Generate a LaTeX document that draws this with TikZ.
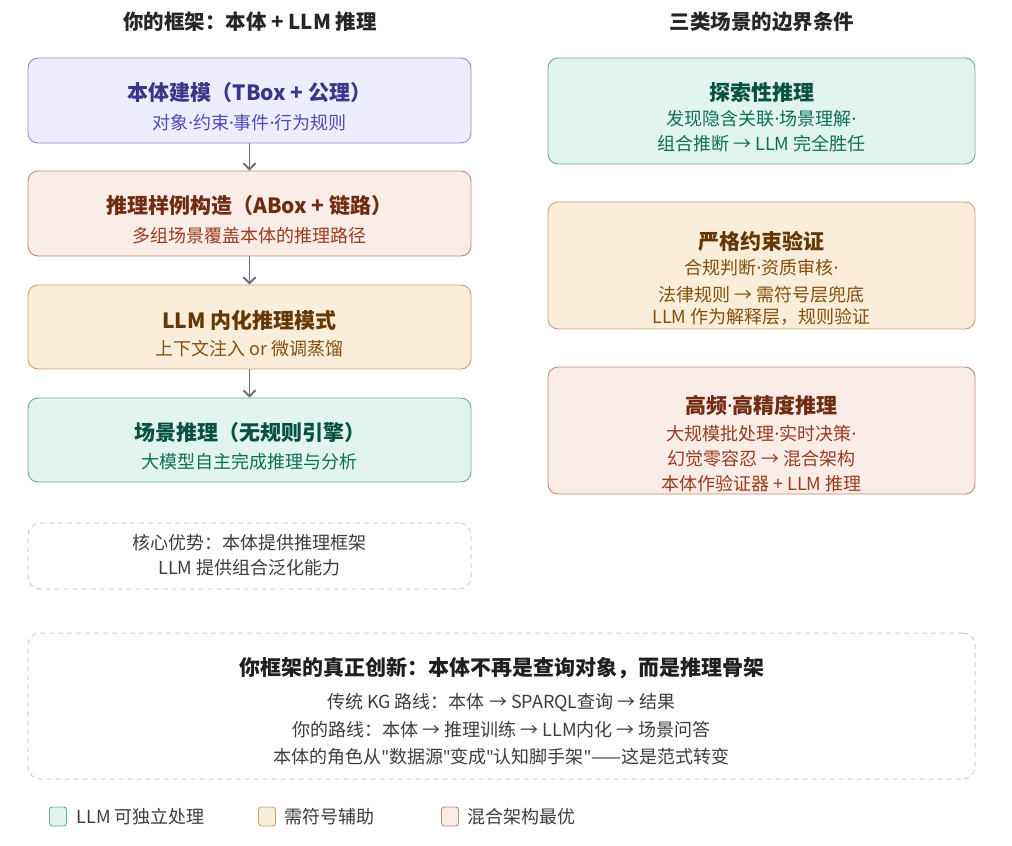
\documentclass[tikz,border=0pt]{standalone}
\usepackage{fontspec}
\setmainfont{Noto Sans CJK SC}
\newfontfamily\latinfont{Noto Sans}
\newcommand\md{{\latinfont ·}}
\newcommand\qt{{\latinfont "}}
\usetikzlibrary{arrows.meta}
\definecolor{pfill}{HTML}{EEEDFE}\definecolor{pdraw}{HTML}{8F88DA}\definecolor{ptxt}{HTML}{3C3489}\definecolor{psub}{HTML}{534AB7}
\definecolor{cfill}{HTML}{FAECE7}\definecolor{cdraw}{HTML}{C98872}\definecolor{ctxt}{HTML}{712B13}\definecolor{csub}{HTML}{993C1D}
\definecolor{afill}{HTML}{FAEEDA}\definecolor{adraw}{HTML}{C9A36F}\definecolor{atxt}{HTML}{633806}\definecolor{asub}{HTML}{854F0B}
\definecolor{tfill}{HTML}{E1F5EE}\definecolor{tdraw}{HTML}{6BAF95}\definecolor{ttxt}{HTML}{085041}\definecolor{tsub}{HTML}{0F6E56}
\definecolor{gline}{HTML}{D0D0D0}\definecolor{gtxt}{HTML}{3D3D3A}\definecolor{arr}{HTML}{6F6F6F}
\tikzset{
  box/.style={draw, rounded corners=10pt, line width=0.9pt, inner sep=0pt},
  dbox/.style={draw=gline, dashed, dash pattern=on 5pt off 4pt, rounded corners=12pt, line width=1pt, inner sep=0pt},
  hdr/.style={font=\fontsize{20.5}{24}\selectfont\bfseries, text=black!85},
  ttl/.style={font=\fontsize{21}{24}\selectfont\bfseries},
  sub/.style={font=\fontsize{18}{21}\selectfont},
  gt/.style={font=\fontsize{18}{21}\selectfont, text=gtxt},
  flow/.style={draw=arr, line width=1.9pt, -{Straight Barb[length=6pt,width=12pt,line width=1.9pt]}},
  leg/.style={draw, rounded corners=3pt, line width=0.9pt, minimum width=17pt, minimum height=19pt, inner sep=0pt}
}
\begin{document}
\begin{tikzpicture}[x=1pt,y=-1pt]
\fill[white] (0,0) rectangle (1012,846);
\useasboundingbox (0,0) rectangle (1012,846);
% headers
\node[hdr] (h1) at (250,22) {你的框架：本体 + LLM 推理};
\node[hdr] (h2) at (762,22) {三类场景的边界条件};
% left flow boxes
\node[box, fill=pfill, draw=pdraw, minimum width=443pt, minimum height=85pt] (b1) at (249.5,100.5) {};
\node[box, fill=cfill, draw=cdraw, minimum width=443pt, minimum height=85pt] (b2) at (249.5,213.5) {};
\node[box, fill=afill, draw=adraw, minimum width=443pt, minimum height=84pt] (b3) at (249.5,327) {};
\node[box, fill=tfill, draw=tdraw, minimum width=443pt, minimum height=84pt] (b4) at (249.5,440) {};
\node[ttl, text=ptxt] (b1t) at (249.5,93) {本体建模（TBox + 公理）};
\node[sub, text=psub] (b1s) at (249.5,123) {对象\md 约束\md 事件\md 行为规则};
\node[ttl, text=ctxt] (b2t) at (249.5,206) {推理样例构造（ABox + 链路）};
\node[sub, text=csub] (b2s) at (249.5,236) {多组场景覆盖本体的推理路径};
\node[ttl, text=atxt] (b3t) at (249.5,320) {LLM 内化推理模式};
\node[sub, text=asub] (b3s) at (249.5,349) {上下文注入 or 微调蒸馏};
\node[ttl, text=ttxt] (b4t) at (249.5,433) {场景推理（无规则引擎）};
\node[sub, text=tsub] (b4s) at (249.5,462) {大模型自主完成推理与分析};
\draw[flow] (b1.south) -- (b2.north);
\draw[flow] (b2.south) -- (b3.north);
\draw[flow] (b3.south) -- (b4.north);
% dashed advantage box
\node[dbox, minimum width=443pt, minimum height=66pt] (adv) at (249.5,556) {};
\node[gt] (adv1) at (249.5,543) {核心优势：本体提供推理框架};
\node[gt] (adv2) at (249.5,568) {LLM 提供组合泛化能力};
% right boxes
\node[box, fill=tfill, draw=tdraw, minimum width=427pt, minimum height=106pt] (r1) at (761.5,111) {};
\node[ttl, text=ttxt] (r1t) at (761.5,93) {探索性推理};
\node[sub, text=tsub] (r1a) at (761.5,119) {发现隐含关联\md 场景理解\md};
\node[sub, text=tsub] (r1b) at (761.5,144) {组合推断 → LLM 完全胜任};
\node[box, fill=afill, draw=adraw, minimum width=427pt, minimum height=127pt] (r2) at (761.5,265.5) {};
\node[ttl, text=atxt] (r2t) at (761.5,241) {严格约束验证};
\node[sub, text=asub] (r2a) at (761.5,268) {合规判断\md 资质审核\md};
\node[sub, text=asub] (r2b) at (761.5,295) {法律规则 → 需符号层兜底};
\node[sub, text=asub] (r2c) at (761.5,317) {LLM 作为解释层，规则验证};
\node[box, fill=cfill, draw=cdraw, minimum width=427pt, minimum height=127pt] (r3) at (761.5,430.5) {};
\node[ttl, text=ctxt] (r3t) at (761.5,405) {高频\md 高精度推理};
\node[sub, text=csub] (r3a) at (761.5,434) {大规模批处理\md 实时决策\md};
\node[sub, text=csub] (r3b) at (761.5,459) {幻觉零容忍 → 混合架构};
\node[sub, text=csub] (r3c) at (761.5,484) {本体作验证器 + LLM 推理};
% bottom dashed box
\node[dbox, minimum width=947pt, minimum height=146pt] (bot) at (501.5,706) {};
\node[ttl, text=black!88] (bott) at (501.5,668) {你框架的真正创新：本体不再是查询对象，而是推理骨架};
\node[gt] (bot1) at (501.5,703) {传统 KG 路线：本体 → SPARQL查询 → 结果};
\node[gt] (bot2) at (501.5,730) {你的路线：本体 → 推理训练 → LLM内化 → 场景问答};
\node[gt] (bot3) at (501.5,757) {本体的角色从\qt 数据源\qt 变成\qt 认知脚手架\qt ——这是范式转变};
% legend
\node[leg, fill=tfill, draw=tdraw] (l1) at (58,816.5) {};
\node[gt, anchor=west] (l1t) at (73,816.5) {LLM 可独立处理};
\node[leg, fill=afill, draw=adraw] (l2) at (267,816.5) {};
\node[gt, anchor=west] (l2t) at (281,816.5) {需符号辅助};
\node[leg, fill=cfill, draw=cdraw] (l3) at (450,816.5) {};
\node[gt, anchor=west] (l3t) at (464,816.5) {混合架构最优};
\end{tikzpicture}
\end{document}
